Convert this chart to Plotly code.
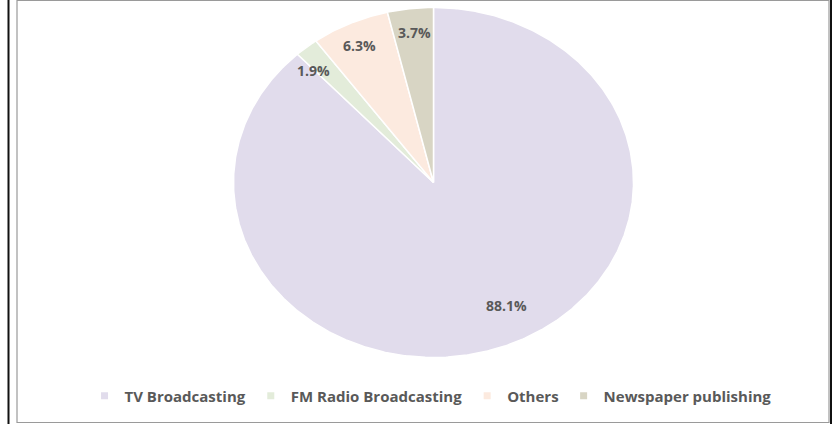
import numpy as np
import plotly.graph_objects as go

# Revenue share by segment (percent)
categories = ["TV Broadcasting", "FM Radio Broadcasting", "Others", "Newspaper publishing"]
shares = [88.1, 1.9, 6.3, 3.7]

# Styling
slice_colors = ["#E1DCEC", "#E3ECDA", "#FCEADF", "#D8D5C4"]
label_color = "#595959"
font_family = "Open Sans, Lato, sans-serif"

# Pie geometry in page pixels (the figure is drawn slightly wider than tall)
W, H = 836, 424
cx, cy = 433.5, 182.5
rx, ry = 200.0, 175.0
# data-label anchors (page pixels), one per slice
label_xy = [(506, 305), (313, 70), (359, 45), (414, 32)]

fig = go.Figure()

values = np.array(shares, dtype=float)
ends = np.cumsum(values) / values.sum() * 2 * np.pi
starts = np.concatenate([[0.0], ends[:-1]])

for name, v, a0, a1, col in zip(categories, shares, starts, ends, slice_colors):
    t = np.linspace(a0, a1, max(int((a1 - a0) / (2 * np.pi) * 720), 4))
    xs = np.concatenate([[cx], cx + rx * np.sin(t), [cx]])
    ys = np.concatenate([[cy], cy - ry * np.cos(t), [cy]])
    fig.add_trace(go.Scatter(
        x=xs, y=ys, mode="lines", fill="toself", fillcolor=col,
        line=dict(color="white", width=1.5), name=name,
        showlegend=False, hoverinfo="text", text=f"{name}: {v:.1f}%",
        hoveron="fills",
    ))

# legend entries
for name, col in zip(categories, slice_colors):
    fig.add_trace(go.Scatter(
        x=[None], y=[None], mode="markers", name=name,
        marker=dict(symbol="square", size=7, color=col),
    ))

for v, (lx, ly) in zip(shares, label_xy):
    fig.add_annotation(
        x=lx, y=ly, xref="x", yref="y", text=f"<b>{v:.1f}%</b>",
        showarrow=False, font=dict(family=font_family, size=14, color=label_color),
    )

# outer frame and chart box
fig.add_shape(type="line", xref="paper", yref="paper", x0=8.5 / W, x1=8.5 / W, y0=0, y1=1,
              line=dict(color="#111111", width=2))
fig.add_shape(type="line", xref="paper", yref="paper", x0=831 / W, x1=831 / W, y0=0, y1=1,
              line=dict(color="#111111", width=2))
fig.add_shape(type="rect", xref="paper", yref="paper", x0=17 / W, x1=829 / W,
              y0=1 - 422.5 / H, y1=1 - 0.5 / H, line=dict(color="#9a9a9a", width=1.2))

fig.update_layout(
    width=W, height=H,
    margin=dict(l=0, r=0, t=0, b=0),
    paper_bgcolor="white", plot_bgcolor="white",
    xaxis=dict(range=[0, W], visible=False, fixedrange=True, domain=[0, 1]),
    yaxis=dict(range=[H, 0], visible=False, fixedrange=True, domain=[0, 1]),
    legend=dict(
        orientation="h", x=0.515, xanchor="center", y=1 - 396 / H, yanchor="middle",
        font=dict(family=font_family, size=15, color=label_color, weight="bold"),
        bgcolor="rgba(0,0,0,0)", itemclick=False, itemdoubleclick=False,
    ),
    showlegend=True,
)

fig.write_html("out.html")
